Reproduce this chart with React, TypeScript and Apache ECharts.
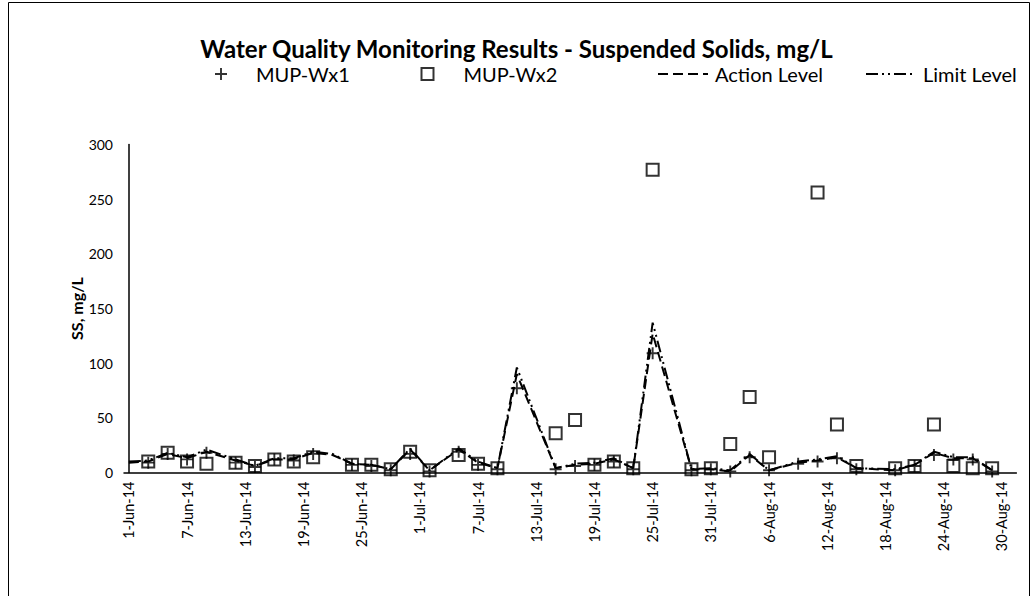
import React, { useEffect, useRef } from "react";
import * as echarts from "echarts";

// Sampling dates and readings
const sampleDates = [
  "2014-06-03", "2014-06-05", "2014-06-07", "2014-06-09", "2014-06-12", "2014-06-14",
  "2014-06-16", "2014-06-18", "2014-06-20", "2014-06-24", "2014-06-26", "2014-06-28",
  "2014-06-30", "2014-07-02", "2014-07-05", "2014-07-07", "2014-07-09", "2014-07-11",
  "2014-07-15", "2014-07-17", "2014-07-19", "2014-07-21", "2014-07-23", "2014-07-25",
  "2014-07-29", "2014-07-31", "2014-08-02", "2014-08-04", "2014-08-06", "2014-08-09",
  "2014-08-11", "2014-08-13", "2014-08-15", "2014-08-19", "2014-08-21", "2014-08-23",
  "2014-08-25", "2014-08-27", "2014-08-29",
];
const wx1: (number | null)[] = [
  9, 17, 12, 18, 9, 5, 12, 11, 17, 7, 6, 2, 17, 1, 19, 7, 3, 77,
  3, 6, 7, 10, 3, 109, 2, 3, 1, 14, 2, 8, 10, 13, 3, 2, 6, 16, 12, 12, 1,
];
const wx2: (number | null)[] = [
  10, 18, 10, 8, 9, 6, 12, 10, 14, 7, 7, 3, 19, 2, 16, 8, 4, null,
  36, 48, 7, 10, 4, 277, 3, 4, 26, 69, 14, null, 256, 44, 6, 4, 6, 44, 6, 4, 4,
];

const levelDates = [
  "2014-06-01", "2014-06-03", "2014-06-05", "2014-06-07", "2014-06-09", "2014-06-12",
  "2014-06-14", "2014-06-16", "2014-06-18", "2014-06-20", "2014-06-22", "2014-06-24",
  "2014-06-26", "2014-06-28", "2014-06-30", "2014-07-02", "2014-07-05", "2014-07-07",
  "2014-07-09", "2014-07-11", "2014-07-15", "2014-07-17", "2014-07-19", "2014-07-21",
  "2014-07-23", "2014-07-25", "2014-07-29", "2014-07-31", "2014-08-02", "2014-08-04",
  "2014-08-06", "2014-08-09", "2014-08-11", "2014-08-13", "2014-08-15", "2014-08-19",
  "2014-08-21", "2014-08-23", "2014-08-25", "2014-08-27", "2014-08-29",
];
const actionLevel = [
  9, 10, 17, 13, 19, 11, 6, 12, 12, 18, 16, 8, 7, 3, 21, 2, 21, 9, 4, 90,
  4, 7, 8, 12, 4, 127, 3, 3, 1, 16, 2, 9, 11, 14, 4, 2, 7, 18, 13, 13, 2,
];
const limitLevel = [
  10, 11, 18, 14, 21, 12, 6, 13, 13, 19, 17, 8, 7, 3, 22, 2, 22, 10, 4, 96,
  4, 8, 9, 13, 4, 137, 3, 4, 2, 17, 2, 10, 12, 15, 4, 3, 7, 19, 14, 14, 2,
];

const xTickDates = [
  "2014-06-01", "2014-06-07", "2014-06-13", "2014-06-19", "2014-06-25", "2014-07-01",
  "2014-07-07", "2014-07-13", "2014-07-19", "2014-07-25", "2014-07-31", "2014-08-06",
  "2014-08-12", "2014-08-18", "2014-08-24", "2014-08-30",
];

const MONTHS = ["Jan", "Feb", "Mar", "Apr", "May", "Jun", "Jul", "Aug", "Sep", "Oct", "Nov", "Dec"];
const START = Date.UTC(2014, 5, 1);
const DAY = 86400000;
const toDay = (s: string) => Math.round((Date.parse(s) - START) / DAY);
const fmtDay = (d: number) => {
  const dt = new Date(START + Math.round(d) * DAY);
  return `${dt.getUTCDate()}-${MONTHS[dt.getUTCMonth()]}-${String(dt.getUTCFullYear()).slice(2)}`;
};

const FONT = "Lato, 'Open Sans', sans-serif";
const PLUS = "path://M4.2,0h1.6v4.2h4.2v1.6h-4.2v4.2h-1.6v-4.2h-4.2v-1.6h4.2z";

export default function App() {
  const ref = useRef<HTMLDivElement>(null);
  useEffect(() => {
    if (!ref.current) return;
    const chart = echarts.init(ref.current, undefined, { renderer: "svg" });
    const pairs = (dates: string[], vals: (number | null)[]) =>
      dates.map((d, i) => [toDay(d), vals[i]]).filter((p) => p[1] !== null);
    const legendText = (padLeft: number) => ({
      fontFamily: FONT,
      fontSize: 20,
      color: "#000",
      padding: [0, 0, 0, padLeft],
    });
    const hideSym = { color: "rgba(0,0,0,0)", borderWidth: 0, opacity: 0 };
    chart.setOption({
      animation: false,
      backgroundColor: "#fff",
      title: {
        text: "Water Quality Monitoring Results - Suspended Solids, mg/L",
        left: "center",
        top: 31,
        textStyle: { fontFamily: FONT, fontSize: 24, fontWeight: "bold", color: "#000" },
      },
      graphic: [
        {
          type: "rect",
          shape: { x: 8.5, y: 2.5, width: 1021, height: 700 },
          style: { fill: "none", stroke: "#000", lineWidth: 1 },
          silent: true,
        },
      ],
      legend: [
        { data: ["MUP-Wx1"], left: 210, top: 59, itemWidth: 12, itemHeight: 12, textStyle: legendText(24) },
        { data: ["MUP-Wx2"], left: 414, top: 59, itemWidth: 12, itemHeight: 12, textStyle: legendText(25) },
        { data: ["Action Level"], left: 652, top: 59, itemWidth: 50, itemHeight: 12, itemStyle: hideSym, textStyle: legendText(2) },
        { data: ["Limit Level"], left: 860, top: 59, itemWidth: 50, itemHeight: 12, itemStyle: hideSym, textStyle: legendText(2) },
      ],
      grid: { left: 124, right: 16.6, top: 144.5, bottom: 123.5, containLabel: false },
      xAxis: {
        type: "value",
        min: -0.5,
        max: 91.5,
        axisLine: { show: true, lineStyle: { color: "#000", width: 1.5 } },
        axisTick: { show: false },
        splitLine: { show: false },
        axisLabel: {
          customValues: xTickDates.map(toDay),
          formatter: (v: number) => fmtDay(v),
          rotate: 90,
          fontFamily: FONT,
          fontSize: 14.5,
          color: "#000",
          margin: 9,
        },
      },
      yAxis: {
        type: "value",
        min: 0,
        max: 300,
        interval: 50,
        name: "SS, mg/L",
        nameLocation: "middle",
        nameGap: 40,
        nameMoveOverlap: false,
        nameTextStyle: { fontFamily: FONT, fontSize: 16, fontWeight: "bold", color: "#000" },
        axisLine: { show: true, lineStyle: { color: "#000", width: 1.5 } },
        axisTick: { show: false },
        splitLine: { show: false },
        axisLabel: { fontFamily: FONT, fontSize: 14, color: "#000", margin: 11 },
      },
      series: [
        {
          name: "Action Level",
          type: "line",
          data: pairs(levelDates, actionLevel),
          symbol: "none",
          lineStyle: { color: "#000", width: 2, type: [10, 5] },
          itemStyle: { color: "#000" },
        },
        {
          name: "Limit Level",
          type: "line",
          data: pairs(levelDates, limitLevel),
          symbol: "none",
          lineStyle: { color: "#000", width: 2, type: [12, 4, 2, 4, 2, 4] },
          itemStyle: { color: "#000" },
        },
        {
          name: "MUP-Wx1",
          type: "scatter",
          data: pairs(sampleDates, wx1),
          symbol: PLUS,
          symbolSize: 12,
          itemStyle: { color: "#000" },
        },
        {
          name: "MUP-Wx2",
          type: "scatter",
          data: pairs(sampleDates, wx2),
          symbol: "rect",
          symbolSize: 12,
          itemStyle: { color: "none", borderColor: "#000", borderWidth: 2 },
        },
      ],
    });
    return () => chart.dispose();
  }, []);
  return (
    <div
      ref={ref}
      style={{ position: "absolute", left: 0, top: 0, width: 1033, height: 596 }}
    />
  );
}
